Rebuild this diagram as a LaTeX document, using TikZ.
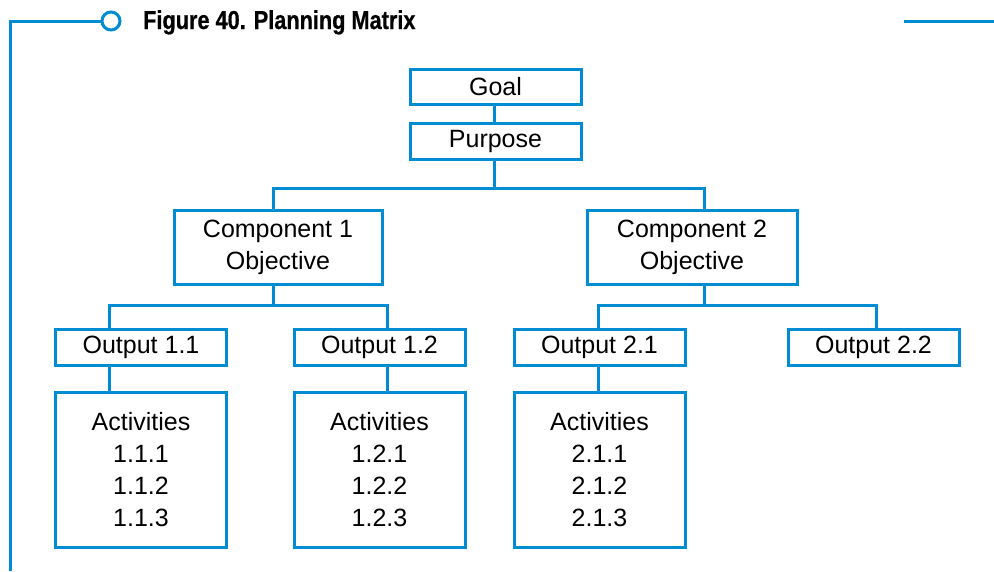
\documentclass[tikz,border=0pt]{standalone}
\usepackage{fontspec}
\setmainfont{Liberation Sans}
\newfontfamily\titlefont[FakeStretch=0.835,FakeBold=0.6]{Liberation Sans Bold}
\definecolor{frameblue}{RGB}{0,140,210}
\begin{document}
\begin{tikzpicture}[x=1pt,y=-1pt,
  box/.style={draw=frameblue,line width=3pt,inner sep=0pt,align=center,
    font=\fontsize{25}{32}\selectfont,fill=white},
  wire/.style={draw=frameblue,line width=3pt}]
\useasboundingbox (0,0) rectangle (994,571);
% frame
\node[circle,draw=frameblue,line width=3pt,minimum size=18pt,inner sep=0pt] (dot) at (111,21) {};
\draw[wire] (10,571) |- (dot.west);
\coordinate (r1) at (904,21);
\coordinate (r2) at (994,21);
\draw[wire] (r1) -- (r2);
\node[anchor=base west,inner sep=0pt,font=\titlefont\fontsize{26}{26}\selectfont] (title) at (143,29) {Figure 40. Planning Matrix};
% boxes
\node[box,minimum width=171pt,minimum height=35pt] (goal) at (495.5,86.5) {Goal};
\node[box,minimum width=171pt,minimum height=36pt] (purpose) at (495.5,141) {Purpose};
\node[box,minimum width=208pt,minimum height=74pt] (comp1) at (278,247.5) {Component 1\\Objective};
\node[box,minimum width=210pt,minimum height=74pt] (comp2) at (692,247.5) {Component 2\\Objective};
\node[box,minimum width=171pt,minimum height=36pt] (out11) at (141,347) {Output 1.1};
\node[box,minimum width=171pt,minimum height=36pt] (out12) at (379.5,347) {Output 1.2};
\node[box,minimum width=171pt,minimum height=36pt] (out21) at (599.5,347) {Output 2.1};
\node[box,minimum width=171pt,minimum height=36pt] (out22) at (873.5,347) {Output 2.2};
\node[box,minimum width=171pt,minimum height=155pt] (act11) at (141,469.5) {Activities\\1.1.1\\1.1.2\\1.1.3};
\node[box,minimum width=171pt,minimum height=155pt] (act12) at (379.5,469.5) {Activities\\1.2.1\\1.2.2\\1.2.3};
\node[box,minimum width=171pt,minimum height=155pt] (act21) at (599.5,469.5) {Activities\\2.1.1\\2.1.2\\2.1.3};
% connectors
\coordinate (bus1) at (494,188);
\coordinate (bus2) at (273,305);
\coordinate (bus3) at (704,305);
\draw[wire] ([xshift=-1.5]goal.south) -- ([xshift=-1.5]purpose.north);
\draw[wire] ([xshift=-1.5]purpose.south) -- (bus1);
\draw[wire] ([xshift=-5]comp1.north) |- (bus1) -| ([xshift=12]comp2.north);
\draw[wire] ([xshift=-5]comp1.south) -- (bus2);
\draw[wire] ([xshift=-32]out11.north) |- (bus2) -| ([xshift=7.5]out12.north);
\draw[wire] ([xshift=12]comp2.south) -- (bus3);
\draw[wire] ([xshift=-1.5]out21.north) |- (bus3) -| ([xshift=2.5]out22.north);
\draw[wire] ([xshift=-32]out11.south) -- ([xshift=-32]act11.north);
\draw[wire] ([xshift=7.5]out12.south) -- ([xshift=7.5]act12.north);
\draw[wire] ([xshift=-1.5]out21.south) -- ([xshift=-1.5]act21.north);
\end{tikzpicture}
\end{document}
